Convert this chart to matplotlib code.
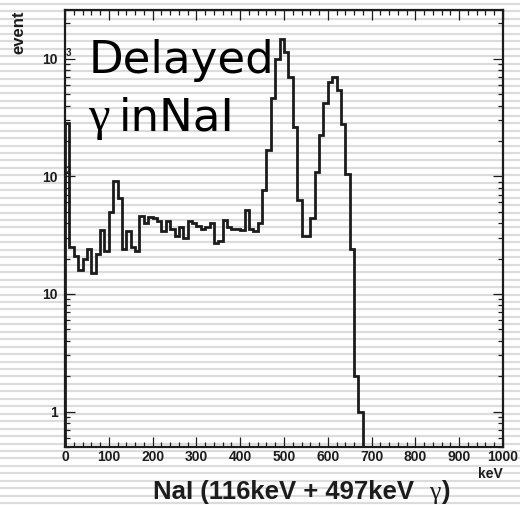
import matplotlib
matplotlib.use("Agg")
import matplotlib.pyplot as plt
import matplotlib.ticker as mticker
import matplotlib.transforms as mtransforms
from matplotlib.lines import Line2D

plt.rcParams["font.family"] = ["Liberation Sans", "DejaVu Sans"]

# NaI energy spectrum, 10 keV bins
BIN_EDGES = list(range(0, 690, 10))
COUNTS = [
    285, 25, 21, 16, 20, 24, 15, 22, 35, 23,
    50, 92, 65, 24, 34, 25, 23, 46, 40, 45,
    44, 42, 34, 42, 36, 31, 37, 30, 42, 40,
    38, 36, 37, 40, 27, 28, 43, 37, 36, 36,
    35, 52, 36, 34, 40, 76, 169, 464, 1000, 1480,
    1140, 707, 262, 63, 31, 31, 44, 108, 226, 420,
    630, 703, 548, 280, 105, 24, 2, 1,
]
X_TICKS = list(range(0, 1001, 100))
Y_TICKS = [1, 10, 100, 1000]
Y_TICK_LABELS = ["1", "10", "10", "10"]
Y_TICK_EXPONENTS = ["", "", "2", "3"]

INK = "#1c1c1c"
W_PX, H_PX = 520, 505


def draw_scan_stripes(fig):
    """Light grey horizontal bands of the scanned original."""
    y = 197.7 % 7.45
    while y < H_PX:
        fig.add_artist(Line2D([0, 1], [1 - y / H_PX] * 2, transform=fig.transFigure,
                              color="#dcdcdc", lw=1.6, zorder=-5))
        y += 7.45


def plot_spectrum():
    fig = plt.figure(figsize=(W_PX / 100, H_PX / 100), dpi=100)
    fig.patch.set_facecolor("white")
    draw_scan_stripes(fig)

    ax = fig.add_axes([65 / W_PX, 1 - 447 / H_PX, 438 / W_PX, 437 / H_PX])
    ax.patch.set_visible(False)

    ax.stairs(COUNTS, BIN_EDGES, baseline=0.01, color=INK, lw=2.0)

    ax.set_yscale("log")
    ax.set_xlim(0, 1000)
    ax.set_ylim(0.5, 2600)

    ax.set_xticks(X_TICKS)
    ax.set_xticklabels([str(t) for t in X_TICKS])
    ax.xaxis.set_minor_locator(mticker.MultipleLocator(20))
    ax.set_yticks(Y_TICKS)
    ax.set_yticklabels(Y_TICK_LABELS)
    ax.yaxis.set_minor_locator(mticker.LogLocator(base=10, subs=range(2, 10)))
    ax.yaxis.set_minor_formatter(mticker.NullFormatter())

    ax.tick_params(which="both", direction="in", top=True, right=True,
                   color=INK, width=0.9, labelsize=10, labelcolor=INK)
    ax.tick_params(which="major", length=7.2)
    ax.tick_params(which="minor", length=3.6)
    ax.tick_params(axis="x", pad=2.5)
    ax.tick_params(axis="y", pad=5)
    for lab in ax.get_xticklabels() + ax.get_yticklabels():
        lab.set_fontweight("bold")
    for sp in ax.spines.values():
        sp.set_linewidth(1.6)
        sp.set_color(INK)

    # exponents of the 10^n labels sit on the axis line, as in the original
    blend = mtransforms.blended_transform_factory(ax.transAxes, ax.transData)
    for val, exp in zip(Y_TICKS, Y_TICK_EXPONENTS):
        if exp:
            ax.annotate(exp, xy=(0.0, val), xycoords=blend, xytext=(2.5, 4),
                        textcoords="offset points", ha="center", va="center",
                        fontsize=7, fontweight="bold", color=INK, zorder=3,
                        annotation_clip=False)

    # big label inside the frame
    big = dict(transform=ax.transAxes, fontsize=32.5, color="black",
               family=["DejaVu Sans"], ha="left", va="baseline")
    ax.text(0.054, 0.856, "Delayed", **big)
    ax.text(0.123, 0.725, "inNaI", **big)
    ax.text(0.053, 0.725, "γ", transform=ax.transAxes, fontsize=35,
            family=["Liberation Serif", "DejaVu Serif"], ha="left", va="baseline")

    ax.text(1.0, -0.045, "keV", transform=ax.transAxes, fontsize=10,
            fontweight="bold", color=INK, ha="right", va="top")
    fig.text(19 / W_PX, 1 - 10 / H_PX, "event", rotation=90, fontsize=12,
             fontweight="bold", color=INK, ha="center", va="top")

    # axis title, gamma in the symbol (serif) face
    base_y = 1 - 499 / H_PX
    t1 = fig.text(153 / W_PX, base_y, "NaI (116keV + 497keV", fontsize=18.5,
                  fontweight="bold", color=INK, ha="left", va="baseline")
    renderer = fig.canvas.get_renderer()
    x1 = t1.get_window_extent(renderer).x1 + 15
    t2 = fig.text(x1 / W_PX, base_y, "γ", fontsize=18.5, color=INK,
                  family=["Liberation Serif", "DejaVu Serif"], ha="left", va="baseline")
    x2 = t2.get_window_extent(renderer).x1 + 1
    fig.text(x2 / W_PX, base_y, ")", fontsize=18.5, fontweight="bold",
             color=INK, ha="left", va="baseline")

    fig.savefig("out.png", dpi=100, facecolor="white")


def main():
    plot_spectrum()


if __name__ == "__main__":
    main()
